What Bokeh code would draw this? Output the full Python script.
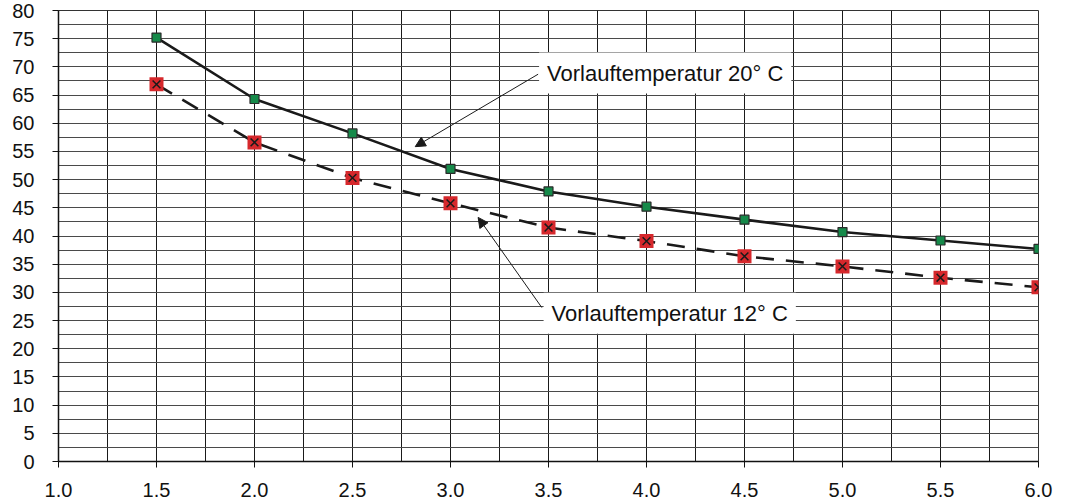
from bokeh.plotting import figure
from bokeh.models import (Range1d, SingleIntervalTicker, Label, Arrow, NormalHead,
                          ColumnDataSource, CustomJSTickFormatter)
from bokeh.embed import file_html
from bokeh.resources import INLINE

# Data
x_vals = [1.5, 2.0, 2.5, 3.0, 3.5, 4.0, 4.5, 5.0, 5.5, 6.0]
temp20 = [75.2, 64.3, 58.2, 51.9, 47.9, 45.2, 42.9, 40.7, 39.2, 37.7]
temp12 = [66.9, 56.6, 50.3, 45.8, 41.5, 39.1, 36.4, 34.6, 32.6, 30.9]
label20 = "Vorlauftemperatur 20° C"
label12 = "Vorlauftemperatur 12° C"

FONT = "Liberation Sans"

p = figure(width=1068, height=502, output_backend="svg", toolbar_location=None,
           x_range=Range1d(1.0, 6.0), y_range=Range1d(0, 80),
           min_border_left=58, min_border_right=30, min_border_top=10,
           min_border_bottom=41)
p.outline_line_color = "#333333"
p.outline_line_width = 1
p.background_fill_color = "white"
p.border_fill_color = "white"

# Axes
p.xaxis.ticker = SingleIntervalTicker(interval=0.5, num_minor_ticks=2)
p.yaxis.ticker = SingleIntervalTicker(interval=5, num_minor_ticks=2)
for ax in (p.xaxis[0], p.yaxis[0]):
    ax.axis_line_color = "#111111"
    ax.axis_line_width = 1.5
    ax.major_tick_line_color = "#111111"
    ax.major_tick_out = 6
    ax.major_tick_in = 0
    ax.minor_tick_out = 0
    ax.minor_tick_in = 0
    ax.major_label_text_font = FONT
    ax.major_label_text_font_size = "20px"
    ax.major_label_text_color = "#111111"
p.xaxis.major_label_standoff = 15
p.yaxis.major_label_standoff = 18
p.xaxis.formatter = CustomJSTickFormatter(code="return tick.toFixed(1);")

# Grid
p.xgrid.ticker = SingleIntervalTicker(interval=0.25)
p.ygrid.ticker = SingleIntervalTicker(interval=2.5)
p.xgrid.grid_line_color = "#1a1a1a"
p.xgrid.grid_line_width = 1
p.ygrid.grid_line_color = "#4a4a4a"
p.ygrid.grid_line_width = 1.2

src = ColumnDataSource(dict(x=x_vals, t20=temp20, t12=temp12))

# Lines
p.line("x", "t20", source=src, line_color="#1a1a1a", line_width=2.6)
p.line("x", "t12", source=src, line_color="#1a1a1a", line_width=2.6, line_dash="18 12")

# Markers
p.scatter("x", "t20", source=src, marker="square", size=9,
          fill_color="#168a4a", line_color="#2a2a2a", line_width=1.2)
p.scatter("x", "t12", source=src, marker="square", size=14,
          fill_color="#d6282c", line_color=None)
p.scatter("x", "t12", source=src, marker="x", size=11,
          fill_color=None, line_color="#1a1a1a", line_width=1.5)

# Arrows
p.add_layout(Arrow(x_start=3.447, y_start=68.7, x_end=2.82, y_end=55.85,
                   line_color="#1a1a1a", line_width=1,
                   end=NormalHead(size=10, fill_color="#1a1a1a", line_color="#1a1a1a",
                                  line_width=1)))
p.add_layout(Arrow(x_start=3.466, y_start=27.3, x_end=3.141, y_end=43.3,
                   line_color="#1a1a1a", line_width=1,
                   end=NormalHead(size=10, fill_color="#1a1a1a", line_color="#1a1a1a",
                                  line_width=1)))

# Labels with white boxes
p.add_layout(Label(x=3.452, y=68.9, text=label20, text_align="left",
                   text_baseline="middle", text_font=FONT, text_font_size="22px",
                   text_color="#111111", background_fill_color="white",
                   padding=8))
p.add_layout(Label(x=3.475, y=26.3, text=label12, text_align="left",
                   text_baseline="middle", text_font=FONT, text_font_size="22px",
                   text_color="#111111", background_fill_color="white",
                   padding=8))

open("out.html", "w").write(file_html(p, INLINE))
